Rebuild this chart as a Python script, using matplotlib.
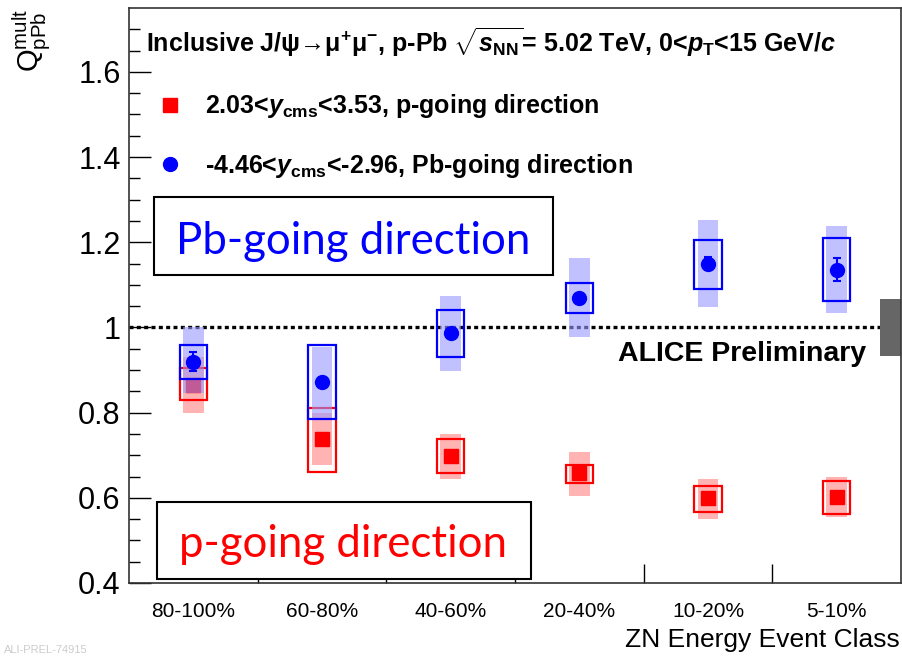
import numpy as np
import matplotlib.pyplot as plt
from matplotlib.patches import Rectangle
from matplotlib.lines import Line2D

plt.rcParams['font.family'] = ['Liberation Sans', 'DejaVu Sans']
plt.rcParams['mathtext.fontset'] = 'custom'
plt.rcParams['mathtext.rm'] = 'Liberation Sans:bold'
plt.rcParams['mathtext.it'] = 'Liberation Sans:bold:italic'
plt.rcParams['mathtext.bf'] = 'Liberation Sans:bold'
plt.rcParams['mathtext.sf'] = 'Liberation Sans'

# -------------------------
# data
# -------------------------
classes = ['80-100%', '60-80%', '40-60%', '20-40%', '10-20%', '5-10%']

# p-going direction, 2.03 < y_cms < 3.53
p_val = [0.865, 0.737, 0.698, 0.658, 0.600, 0.602]
p_box_lo = [0.830, 0.660, 0.658, 0.634, 0.566, 0.561]
p_box_hi = [0.904, 0.810, 0.737, 0.676, 0.628, 0.639]
p_shade_lo = [0.800, 0.676, 0.644, 0.604, 0.550, 0.555]
p_shade_hi = [0.930, 0.800, 0.750, 0.707, 0.644, 0.648]

# Pb-going direction, -4.46 < y_cms < -2.96
pb_val = [0.920, 0.871, 0.986, 1.070, 1.150, 1.136]
pb_stat = [0.023, 0.012, 0.005, 0.005, 0.015, 0.026]
pb_box_lo = [0.880, 0.785, 0.930, 1.035, 1.091, 1.063]
pb_box_hi = [0.958, 0.958, 1.042, 1.105, 1.206, 1.209]
pb_shade_lo = [0.845, 0.787, 0.897, 0.977, 1.047, 1.035]
pb_shade_hi = [1.000, 0.955, 1.075, 1.164, 1.253, 1.237]

global_unc = 0.066

W, H = 903, 657
fig = plt.figure(figsize=(W / 100, H / 100), dpi=100)
ax = fig.add_axes([129 / W, 1 - 583 / H, (901 - 129) / W, (583 - 8) / H])

x = np.arange(len(classes)) + 0.5
box_w = 0.21
shade_w = 0.16

red = '#ff0000'
blue = '#0000ff'
red_shade = '#ffb3b3'
blue_shade = '#9999ff'


def draw_boxes(xc, lo, hi, width, **kw):
    for xi, l, h in zip(xc, lo, hi):
        ax.add_patch(Rectangle((xi - width / 2, l), width, h - l, **kw))


def label_box(x0, y0, x1, y1):
    # frame in pixel coords (top-left origin), kept below the axis ticks
    ax.add_patch(Rectangle((x0 / W, 1 - y1 / H), (x1 - x0) / W, (y1 - y0) / H,
                           transform=fig.transFigure, facecolor='white',
                           edgecolor='black', lw=1.5, zorder=2.2, clip_on=False))


# p-going
draw_boxes(x, p_shade_lo, p_shade_hi, shade_w, facecolor=red_shade, edgecolor='none', zorder=1)
draw_boxes(x, p_box_lo, p_box_hi, box_w, facecolor='none', edgecolor=red, lw=1.6, zorder=1.2)
ax.plot(x, p_val, 's', color=red, ms=10, zorder=1.4)

# Pb-going
draw_boxes(x, pb_shade_lo, pb_shade_hi, shade_w, facecolor=blue_shade, edgecolor='none', alpha=0.6, zorder=1.6)
draw_boxes(x, pb_box_lo, pb_box_hi, box_w, facecolor='none', edgecolor=blue, lw=1.6, zorder=1.8)
ax.errorbar(x, pb_val, yerr=pb_stat, fmt='o', color=blue, ms=10, elinewidth=1.5,
            capsize=3, capthick=1.5, zorder=2.0)

# unity line and global uncertainty
ax.axhline(1.0, xmax=1 - shade_w / len(classes), color='black', lw=2.4, ls=(0, (1.2, 1.0)), zorder=1.5)
ax.add_patch(Rectangle((len(classes) - shade_w, 1 - global_unc), shade_w, 2 * global_unc,
                       facecolor='#666666', edgecolor='none', zorder=2.1))

ax.set_xlim(0, len(classes))
ax.set_ylim(0.4, 1.75)

ax.set_xticks(x)
ax.set_xticklabels(classes, fontsize=15)
ax.set_xticks(np.arange(1, len(classes)), minor=True)
ax.tick_params(axis='x', which='major', length=0, pad=14)
ax.tick_params(axis='x', which='minor', direction='in', length=14, width=1)

ax.set_yticks([0.4, 0.6, 0.8, 1.0, 1.2, 1.4, 1.6])
ax.set_yticklabels(['0.4', '0.6', '0.8', '1', '1.2', '1.4', '1.6'], fontsize=22)
ax.set_yticks(np.arange(0.45, 1.75, 0.05), minor=True)
ax.tick_params(axis='y', which='major', direction='in', length=16, width=1, pad=6)
ax.tick_params(axis='y', which='minor', direction='in', length=8, width=1)

for sp in ax.spines.values():
    sp.set_linewidth(1.2)
    sp.set_color('#333333')

fig.text(900 / W, 1 - 640 / H, 'ZN Energy Event Class', fontsize=19, ha='right', va='center')
fig.text(32 / W, 1 - 40 / H, r'$\mathsf{Q}^{\mathsf{mult}}_{\mathsf{pPb}}$', fontsize=21,
         rotation=90, ha='center', va='center')

# header and legend
fig.text(146 / W, 1 - 42 / H,
         'Inclusive J/ψ→μ$^{+}$μ$^{-}$, p-Pb $\\sqrt{s_{\\rm NN}}$= 5.02 TeV, 0<$p_{\\rm T}$<15 GeV/$c$',
         fontsize=18, fontweight='bold', va='center', ha='left')

handles = [Line2D([], [], ls='none', marker='s', color=red, ms=10),
           Line2D([], [], ls='none', marker='o', color=blue, ms=10)]
labels = ['2.03<$y_{\\rm cms}$<3.53, p-going direction',
          '-4.46<$y_{\\rm cms}$<-2.96, Pb-going direction']
ax.legend(handles, labels, loc='upper left', bbox_to_anchor=(135 / W, 1 - 70 / H),
          bbox_transform=fig.transFigure, frameon=False,
          prop={'weight': 'bold', 'size': 18}, handlelength=1.0,
          handletextpad=0.9, labelspacing=1.25, numpoints=1)

# direction labels
label_box(154, 197, 553, 275)
ax.text(353 / W, 1 - 254 / H, 'Pb-going direction', family='Lato', transform=fig.transFigure,
        fontsize=31.5, color=blue, ha='center', va='baseline', zorder=2.3)
label_box(157, 502, 531, 579)
ax.text(343 / W, 1 - 557 / H, 'p-going direction', family='Lato', transform=fig.transFigure,
        fontsize=31.5, color=red, ha='center', va='baseline', zorder=2.3)

fig.text(866 / W, 1 - 354 / H, 'ALICE Preliminary',
         fontsize=20.5, fontweight='bold', ha='right', va='center')

fig.text(4 / W, 1 - 655 / H, 'ALI-PREL-74915', fontsize=8, color='#cccccc', ha='left', va='bottom')

fig.savefig('out.png', dpi=100)
